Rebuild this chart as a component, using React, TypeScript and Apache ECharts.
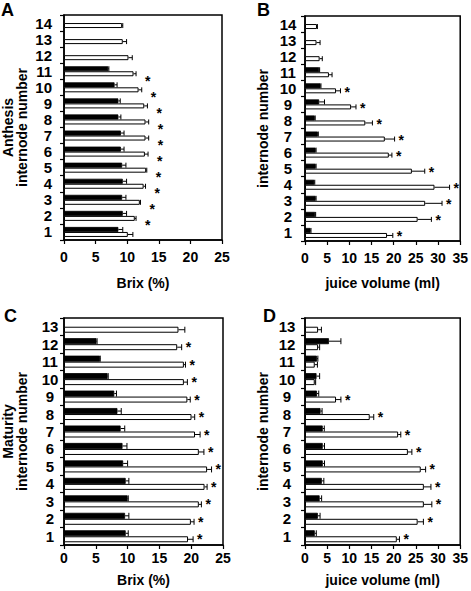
import React, { useEffect, useRef } from "react";
import * as echarts from "echarts";

// ---- data ----
const catsAB = ["1", "2", "3", "4", "5", "6", "7", "8", "9", "10", "11", "12", "13", "14"];
const catsCD = ["1", "2", "3", "4", "5", "6", "7", "8", "9", "10", "11", "12", "13"];

// A: Anthesis, Brix (%)
const whiteA = [10.1, 11.2, 12.0, 12.6, 13.0, 12.8, 12.9, 12.9, 12.7, 11.8, 11.0, 10.2, 9.3, 9.2];
const whiteErrA = [0.8, 0.2, 0.1, 0.3, 0.1, 0.5, 0.5, 0.5, 0.5, 0.5, 0.4, 0.6, 0.6, 0.1];
const blackA = [8.6, 9.3, 9.2, 9.3, 9.2, 9.0, 9.0, 8.6, 8.6, 8.0, 7.0, null, null, null];
const blackErrA = [0.7, 0.6, 0.6, 0.6, 0.6, 0.5, 0.5, 0.4, 0.3, 0.4, 0.1, null, null, null];
const sigA = [0, 1, 1, 1, 1, 1, 1, 1, 1, 1, 1, 0, 0, 0];

// B: Anthesis, juice volume (ml)
const whiteB = [18.5, 25.4, 27.1, 29.2, 24.1, 18.9, 18.0, 13.6, 10.4, 7.0, 5.4, 3.3, 2.6, 2.7];
const whiteErrB = [1.3, 3.1, 3.8, 3.4, 2.9, 0.7, 2.2, 1.6, 1.1, 1.0, 0.7, 0.6, 0.8, 0.1];
const blackB = [1.25, 2.3, 2.4, 2.1, 2.4, 2.4, 2.9, 2.2, 3.2, 3.5, 3.2, null, null, null];
const blackErrB = [0.1, 0.1, 0.1, 0.1, 0.1, 0.1, 0.1, 0.1, 1.2, 0.1, 0.1, null, null, null];
const sigB = [1, 1, 1, 1, 1, 1, 1, 1, 1, 1, 0, 0, 0, 0];

// C: Maturity, Brix (%)
const whiteC = [19.5, 19.95, 21.2, 22.1, 22.5, 21.2, 20.6, 20.05, 19.4, 18.85, 18.85, 17.8, 18.0];
const whiteErrC = [0.8, 0.5, 0.4, 0.4, 0.7, 0.8, 0.8, 0.5, 0.45, 0.55, 0.25, 0.7, 1.0];
const blackC = [9.7, 9.6, 10.0, 9.7, 9.3, 9.2, 8.9, 8.4, 7.9, 6.85, 5.65, 5.1, null];
const blackErrC = [0.4, 0.6, 0.1, 0.5, 0.7, 0.7, 0.65, 0.6, 0.35, 0.1, 0.05, 0.1, null];
const sigC = [1, 1, 1, 1, 1, 1, 1, 1, 1, 1, 1, 1, 0];

// D: Maturity, juice volume (ml)
const whiteD = [20.7, 25.4, 26.8, 26.8, 26.1, 23.2, 21.0, 14.6, 7.0, 2.2, 2.2, 2.95, 2.95];
const whiteErrD = [0.6, 1.3, 1.8, 1.6, 1.1, 0.9, 0.6, 0.9, 1.1, 0.2, 0.6, 0.35, 0.75];
const blackD = [2.2, 2.9, 3.3, 3.8, 4.0, 4.0, 4.0, 3.5, 2.7, 2.6, 2.7, 5.4, null];
const blackErrD = [0.35, 0.5, 0.45, 0.45, 0.4, 0.4, 0.35, 0.35, 0.4, 0.7, 0.2, 2.7, null];
const sigD = [1, 1, 1, 1, 1, 1, 1, 1, 1, 0, 0, 0, 0];

const FONT = "'Liberation Sans', Arial, Helvetica, sans-serif";

type Panel = {
  cats: string[];
  white: (number | null)[];
  whiteErr: (number | null)[];
  black: (number | null)[];
  blackErr: (number | null)[];
  sig: number[];
  xMax: number;
  xName: string;
  yName: string;
  grid: { left: number; top: number; width: number; height: number };
  bw: number;
  labelAlign: string;
  labelMargin: number;
  xLabelMargin: number;
  xNameGap: number;
  starDx: number;
  starDy: number;
};

const panels: Panel[] = [
  {
    cats: catsAB, white: whiteA, whiteErr: whiteErrA, black: blackA, blackErr: blackErrA, sig: sigA,
    xMax: 25, xName: "Brix (%)", yName: "Anthesis\ninternode number",
    grid: { left: 62, top: 15, width: 160, height: 225 }, bw: 5,
    labelAlign: "right", labelMargin: 12, xLabelMargin: 10, xNameGap: 36, starDx: 9, starDy: 7,
  },
  {
    cats: catsAB, white: whiteB, whiteErr: whiteErrB, black: blackB, blackErr: blackErrB, sig: sigB,
    xMax: 35, xName: "juice volume (ml)", yName: "internode number",
    grid: { left: 305, top: 16, width: 158, height: 225 }, bw: 5,
    labelAlign: "center", labelMargin: 17, xLabelMargin: 10, xNameGap: 35, starDx: 4, starDy: 1,
  },
  {
    cats: catsCD, white: whiteC, whiteErr: whiteErrC, black: blackC, blackErr: blackErrC, sig: sigC,
    xMax: 25, xName: "Brix (%)", yName: "Maturity\ninternode number",
    grid: { left: 63, top: 318, width: 160, height: 227 }, bw: 6,
    labelAlign: "center", labelMargin: 14, xLabelMargin: 6, xNameGap: 28, starDx: 4, starDy: 0,
  },
  {
    cats: catsCD, white: whiteD, whiteErr: whiteErrD, black: blackD, blackErr: blackErrD, sig: sigD,
    xMax: 35, xName: "juice volume (ml)", yName: "internode number",
    grid: { left: 305, top: 318, width: 159, height: 227 }, bw: 6,
    labelAlign: "center", labelMargin: 18, xLabelMargin: 6, xNameGap: 28, starDx: 4, starDy: 0,
  },
];

const letters = [
  { t: "A", x: 1, y: 1 },
  { t: "B", x: 257, y: 1 },
  { t: "C", x: 4, y: 307 },
  { t: "D", x: 263, y: 307 },
];

function buildOption() {
  const grid: any[] = [];
  const xAxis: any[] = [];
  const yAxis: any[] = [];
  const series: any[] = [];

  panels.forEach((p, i) => {
    grid.push({ ...p.grid, show: true, borderColor: "#000", borderWidth: 1.5, backgroundColor: "transparent" });
    xAxis.push({
      type: "value", gridIndex: i, min: 0, max: p.xMax, interval: 5,
      name: p.xName, nameLocation: "middle", nameGap: p.xNameGap,
      nameTextStyle: { fontFamily: FONT, fontWeight: "bold", fontSize: 14, color: "#000" },
      axisLine: { show: true, lineStyle: { color: "#000", width: 1.5 } },
      axisTick: { show: true, inside: false, length: 4, lineStyle: { color: "#000", width: 1.2 } },
      axisLabel: { fontFamily: FONT, fontWeight: "bold", fontSize: 14, color: "#000", margin: p.xLabelMargin },
      splitLine: { show: false },
    });
    yAxis.push({
      type: "category", gridIndex: i, data: p.cats,
      name: p.yName, nameLocation: "middle", nameGap: 35, nameRotate: 90,
      nameTextStyle: { fontFamily: FONT, fontWeight: "bold", fontSize: 14, color: "#000", lineHeight: 14 },
      axisLine: { show: true, lineStyle: { color: "#000", width: 1.5 } },
      axisTick: { show: true, inside: false, length: 4, interval: 0, lineStyle: { color: "#000", width: 1.2 } },
      axisLabel: { interval: 0, fontFamily: FONT, fontWeight: "bold", fontSize: 15, color: "#000", margin: p.labelMargin, align: p.labelAlign },
      splitLine: { show: false },
    });

    const bw = p.bw;
    series.push({
      type: "bar", xAxisIndex: i, yAxisIndex: i, data: p.black, barWidth: bw, barGap: "0%",
      itemStyle: { color: "#000", borderColor: "#000", borderWidth: 0.8 },
    });
    series.push({
      type: "bar", xAxisIndex: i, yAxisIndex: i, data: p.white, barWidth: bw, barGap: "0%",
      itemStyle: { color: "#fff", borderColor: "#000", borderWidth: 1 },
    });

    // error bars: [value, index, err, which(0 black,1 white)]
    const errData: any[] = [];
    p.black.forEach((v, k) => { if (v != null && p.blackErr[k] != null) errData.push([v, k, p.blackErr[k], 0]); });
    p.white.forEach((v, k) => { if (v != null && p.whiteErr[k] != null) errData.push([v, k, p.whiteErr[k], 1]); });
    series.push({
      type: "custom", xAxisIndex: i, yAxisIndex: i, data: errData, encode: { x: 0, y: 1 }, z: 5,
      renderItem: (params: any, api: any) => {
        const v = api.value(0), c = api.value(1), e = api.value(2), w = api.value(3);
        const p0 = api.coord([v, c]);
        const p1 = api.coord([v + e, c]);
        const yy = p0[1] + (w === 0 ? -bw / 2 : bw / 2);
        const st = { stroke: "#000", lineWidth: 1 };
        return {
          type: "group",
          children: [
            { type: "line", shape: { x1: p0[0], y1: yy, x2: p1[0], y2: yy }, style: st },
            { type: "line", shape: { x1: p1[0], y1: yy - bw / 2, x2: p1[0], y2: yy + bw / 2 }, style: st },
          ],
        };
      },
    });

    // significance asterisks
    const starData: any[] = [];
    p.sig.forEach((s, k) => {
      if (s && p.white[k] != null) starData.push([(p.white[k] as number) + (p.whiteErr[k] || 0), k]);
    });
    series.push({
      type: "custom", xAxisIndex: i, yAxisIndex: i, data: starData, encode: { x: 0, y: 1 }, z: 6,
      renderItem: (params: any, api: any) => {
        const pt = api.coord([api.value(0), api.value(1)]);
        return {
          type: "text",
          x: pt[0] + p.starDx,
          y: pt[1] + bw / 2 + p.starDy,
          style: { text: "*", fill: "#000", fontFamily: FONT, fontWeight: "bold", fontSize: 14, align: "left", verticalAlign: "middle" },
        };
      },
    });
  });

  return {
    animation: false,
    backgroundColor: "#fff",
    grid, xAxis, yAxis, series,
    graphic: letters.map((l) => ({
      type: "text", left: l.x, top: l.y,
      style: { text: l.t, fill: "#000", fontFamily: FONT, fontWeight: "bold", fontSize: 18 },
    })),
  };
}

export default function App() {
  const ref = useRef<HTMLDivElement>(null);
  useEffect(() => {
    if (!ref.current) return;
    const chart = echarts.init(ref.current, undefined, { renderer: "svg" });
    chart.setOption(buildOption() as any);
    return () => chart.dispose();
  }, []);
  return <div ref={ref} style={{ position: "fixed", left: 0, top: 0, width: 471, height: 591, background: "#fff" }} />;
}
